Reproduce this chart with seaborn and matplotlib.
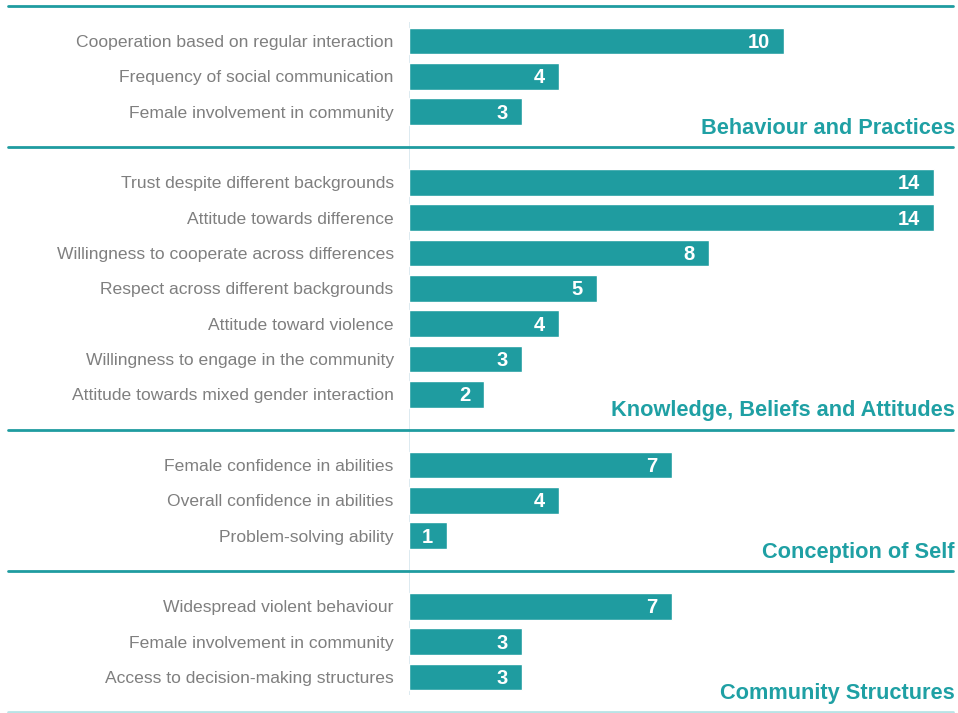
import pandas as pd
import seaborn as sns
from matplotlib import pyplot as plt
from matplotlib import transforms

TEAL = "#1f9ca0"
LABEL_TEAL = "#1fa0a4"
GREY = "#7f7f7f"

groups = ["Behaviour and Practices", "Knowledge, Beliefs and Attitudes",
          "Conception of Self", "Community Structures"]

behaviour_labels = ["Cooperation based on regular interaction",
                    "Frequency of social communication",
                    "Female involvement in community"]
behaviour_values = [10, 4, 3]

knowledge_labels = ["Trust despite different backgrounds",
                    "Attitude towards difference",
                    "Willingness to cooperate across differences",
                    "Respect across different backgrounds",
                    "Attitude toward violence",
                    "Willingness to engage in the community",
                    "Attitude towards mixed gender interaction"]
knowledge_values = [14, 14, 8, 5, 4, 3, 2]

self_labels = ["Female confidence in abilities",
               "Overall confidence in abilities",
               "Problem-solving ability"]
self_values = [7, 4, 1]

community_labels = ["Widespread violent behaviour",
                    "Female involvement in community",
                    "Access to decision-making structures"]
community_values = [7, 3, 3]

group_labels = [behaviour_labels, knowledge_labels, self_labels, community_labels]
group_values = [behaviour_values, knowledge_values, self_values, community_values]

# lay rows out with one empty slot per group for the separator line
rows = []
separators = [-1]
pos = 0
for name, labels, values in zip(groups, group_labels, group_values):
    for lab, val in zip(labels, values):
        rows.append({"group": name, "label": lab, "value": val, "pos": pos})
        pos += 1
    separators.append(pos)
    pos += 1
df = pd.DataFrame(rows)

sns.set_style("white")
plt.rcParams["font.family"] = ["Liberation Sans", "DejaVu Sans"]

fig = plt.figure(figsize=(9.58, 7.13), dpi=100)
ax = fig.add_axes([409 / 958, 0, 546 / 958, 1])

sns.barplot(data=df, x="value", y="pos", orient="h", native_scale=True,
            color=TEAL, saturation=1, width=0.75, ax=ax)

ax.set_xlim(0, 546 / 37.5)
ax.set_ylim(19.02, -1.16)
ax.set_yticks(df["pos"], df["label"], fontsize=12.6, color=GREY)
ax.set_xticks([])
ax.tick_params(axis="y", length=0, pad=11)
ax.set_xlabel("")
ax.set_ylabel("")
sns.despine(ax=ax, left=True, bottom=True)

for patch, val in zip(ax.patches, df["value"]):
    ax.annotate(str(val), (patch.get_width(), patch.get_y() + patch.get_height() / 2),
                xytext=(-10, -1), textcoords="offset points", ha="right", va="center",
                color="white", fontsize=14.5, fontweight="bold")

# light axis line at zero
ax.vlines(0, -0.55, separators[-1] - 0.5, color="#d7e6ee", linewidth=1.2, zorder=0)

# separators span the whole width, labels included
trans = transforms.blended_transform_factory(fig.transFigure, ax.transData)
for i, y in enumerate(separators):
    col = "#b9e3e6" if i == len(separators) - 1 else TEAL
    ax.plot([8 / 958, 953 / 958], [y, y], color=col, linewidth=2, transform=trans,
            clip_on=False)

for name, y in zip(groups, separators[1:]):
    ax.text(955 / 958, y - 0.53, name, transform=trans, ha="right", va="center",
            color=LABEL_TEAL, fontsize=15.7, fontweight="bold")

plt.savefig("out.png", dpi=100)
